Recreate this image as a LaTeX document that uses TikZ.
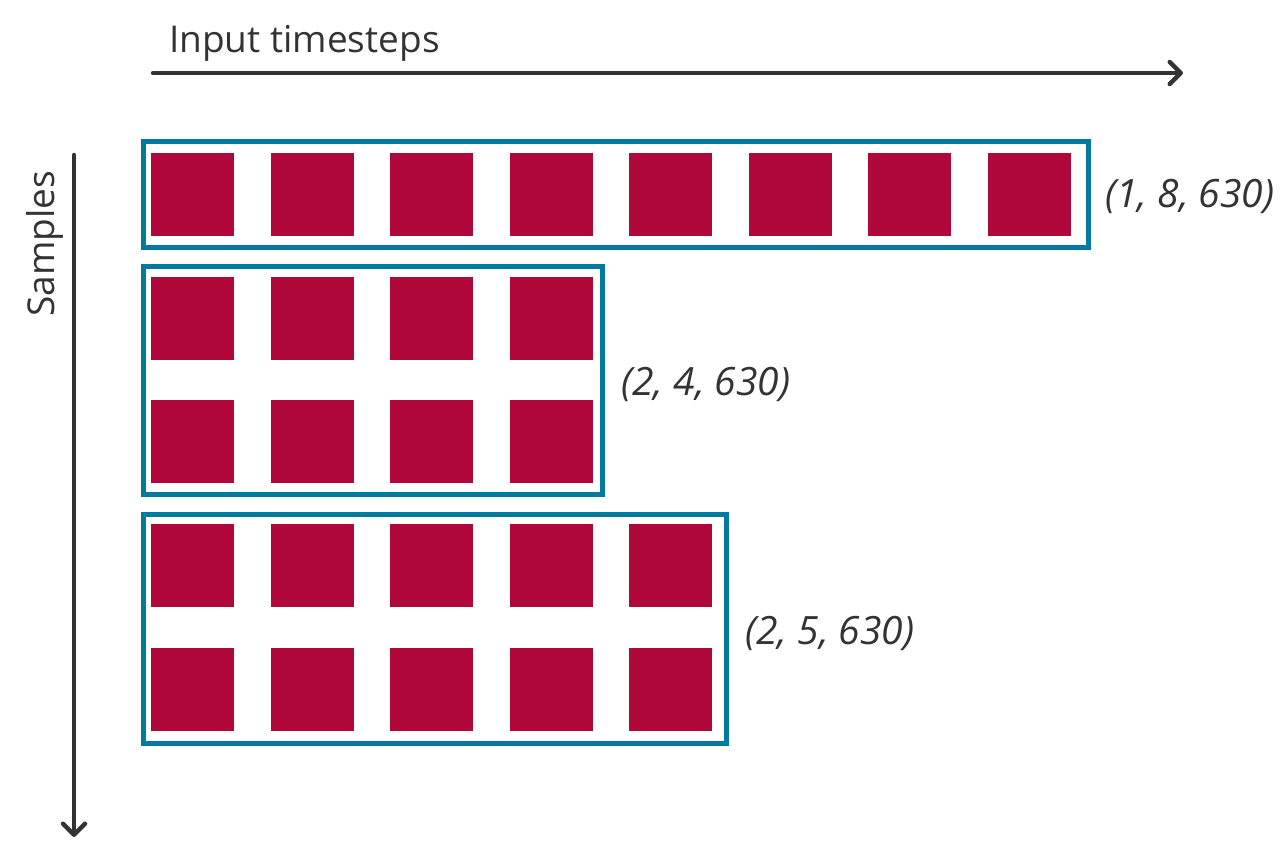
\documentclass[tikz,border=0pt]{standalone}
\usepackage{fontspec}
\setmainfont{Open Sans}
\usetikzlibrary{arrows.meta}
\definecolor{crim}{HTML}{B0083A}
\definecolor{teal}{HTML}{007A9E}
\definecolor{ink}{HTML}{333333}
\tikzset{
  sq/.style={fill=crim, draw=none, minimum size=83pt, inner sep=0pt, outer sep=0pt, anchor=north west},
  grp/.style={draw=teal, line width=5pt},
  axis/.style={draw=ink, line width=4.5pt, line cap=round, -{Straight Barb[length=11pt,width=22pt,line cap=round,line join=round]}},
  lab/.style={text=ink, font=\fontsize{39}{44}\selectfont\itshape, anchor=west, inner sep=0pt},
  axlab/.style={text=ink, font=\fontsize{37}{42}\selectfont, inner sep=0pt}
}
\begin{document}
\begin{tikzpicture}[x=1pt,y=-1pt]
\useasboundingbox (0,0) rectangle (1288,849);
% axes
\coordinate (hx0) at (153,73);
\coordinate (hx1) at (1183,73);
\draw[axis] (hx0) -- (hx1);
\coordinate (vy0) at (74,155);
\coordinate (vy1) at (74,837);
\draw[axis] (vy0) -- (vy1);
\node[axlab, anchor=base west] (tlab) at (169,52) {Input timesteps};
\node[axlab, rotate=90, anchor=base] (slab) at (54,244) {Samples};
% group 1
\draw[grp] (143.5,141.5) rectangle (1088.5,247.5);
\foreach \i in {0,...,7}{
  \node[sq] (a\i) at ({151+119.5*\i},153) {};
}
\node[lab] (l1) at (1105,196) {(1, 8, 630)};
% group 2
\draw[grp] (143.5,266.5) rectangle (602.5,494.5);
\foreach \r/\y in {0/277,1/400}{
  \foreach \i in {0,...,3}{
    \node[sq] (b\r\i) at ({151+119.5*\i},\y) {};
  }
}
\node[lab] (l2) at (621,384) {(2, 4, 630)};
% group 3
\draw[grp] (143.5,514.5) rectangle (726.5,743.5);
\foreach \r/\y in {0/524,1/648}{
  \foreach \i in {0,...,4}{
    \node[sq] (c\r\i) at ({151+119.5*\i},\y) {};
  }
}
\node[lab] (l3) at (745,633) {(2, 5, 630)};
\end{tikzpicture}
\end{document}
